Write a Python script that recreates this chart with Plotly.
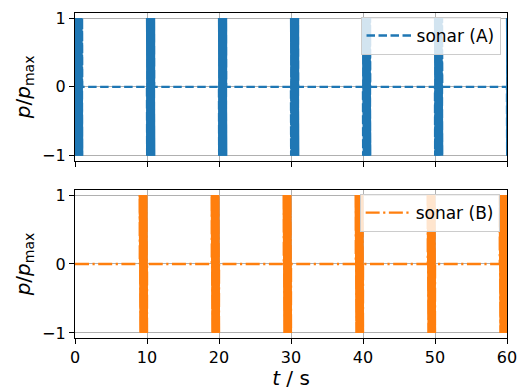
import plotly.graph_objects as go
from plotly.subplots import make_subplots

# ---- data ----
pulse_start_A = [0, 10, 20, 30, 40, 50, 60]      # s
pulse_start_B = [9, 19, 29, 39, 49, 59]          # s
pulse_length = 1.0                               # s
amplitude = 1.0                                  # p/p_max
carrier_half_cycles = 80                         # oscillations drawn per pulse
t_end = 60.0
x_ticks = [0, 10, 20, 30, 40, 50, 60]
y_ticks = [-1, 0, 1]
names = ["sonar (A)", "sonar (B)"]
colors = ["#1f77b4", "#ff7f0e"]


def waveform(starts):
    t, p = [0.0], [0.0]
    for s in starts:
        t.append(s); p.append(0.0)
        n = carrier_half_cycles
        for k in range(1, n + 1):
            t.append(s + pulse_length * k / (n + 1))
            p.append(amplitude if k % 2 else -amplitude)
        t.append(s + pulse_length); p.append(0.0)
    t.append(max(t_end, t[-1])); p.append(0.0)
    return t, p


def pulses_only(starts):
    t, p = [], []
    for s in starts:
        n = carrier_half_cycles
        for k in range(1, n + 1):
            t.append(s + pulse_length * k / (n + 1))
            p.append(amplitude if k % 2 else -amplitude)
        t.append(None); p.append(None)
    return t, p


tA, pA = waveform(pulse_start_A)
tB, pB = waveform(pulse_start_B)
qA, rA = pulses_only(pulse_start_A)
qB, rB = pulses_only(pulse_start_B)

font = "DejaVu Sans"
fig = make_subplots(rows=2, cols=1, shared_xaxes=True, vertical_spacing=0.09)

fig.add_trace(go.Scatter(x=tA, y=pA, mode="lines", name=names[0],
                         line=dict(color=colors[0], width=2.4, dash="8.5px,3.5px"),
                         legend="legend", showlegend=True), row=1, col=1)
fig.add_trace(go.Scatter(x=qA, y=rA, mode="lines", name=names[0], showlegend=False,
                         line=dict(color=colors[0], width=2.4), hoverinfo="skip",
                         connectgaps=False), row=1, col=1)
fig.add_trace(go.Scatter(x=tB, y=pB, mode="lines", name=names[1],
                         line=dict(color=colors[1], width=2.4, dash="14px,3.5px,2.2px,3.5px"),
                         legend="legend2", showlegend=True), row=2, col=1)
fig.add_trace(go.Scatter(x=qB, y=rB, mode="lines", name=names[1], showlegend=False,
                         line=dict(color=colors[1], width=2.4), hoverinfo="skip",
                         connectgaps=False), row=2, col=1)

axis_common = dict(showline=True, linecolor="black", linewidth=1.2, mirror=True,
                   ticks="outside", ticklen=5, tickwidth=1.2, tickcolor="black",
                   showgrid=True, gridcolor="#b0b0b0", gridwidth=1, zeroline=False,
                   automargin=False,
                   tickfont=dict(family=font, size=16, color="black"))

ytitle = "<i>p</i>/<i>p</i><sub>max</sub>"
for r in (1, 2):
    fig.update_xaxes(range=[0, t_end], tickvals=x_ticks, row=r, col=1, **axis_common)
    fig.update_yaxes(range=[-1.073, 1.073], tickvals=y_ticks, row=r, col=1,
                     title=dict(text=ytitle, font=dict(family=font, size=20, color="black"),
                                standoff=6),
                     **axis_common)
fig.update_xaxes(title=dict(text="<i>t</i> / s", font=dict(family=font, size=20, color="black"),
                            standoff=2), row=2, col=1)

legend_style = dict(xanchor="right", yanchor="top", itemwidth=45,
                    bgcolor="rgba(255,255,255,0.8)", bordercolor="#cccccc", borderwidth=1,
                    font=dict(family=font, size=17, color="black"))

fig.update_layout(
    width=518, height=390,
    margin=dict(l=75, r=11, t=13, b=52),
    plot_bgcolor="white", paper_bgcolor="white",
    showlegend=True,
    font=dict(family=font, size=16, color="black"),
    yaxis=dict(domain=[0.5455, 1.0]),
    yaxis2=dict(domain=[0.0, 0.4554]),
    legend=dict(x=0.985, y=0.988, **legend_style),
    legend2=dict(x=0.983, y=0.443, **legend_style),
)

fig.write_html("out.html", config={"displayModeBar": False},
               post_script="document.body.style.margin='0';document.body.style.padding='0';")
